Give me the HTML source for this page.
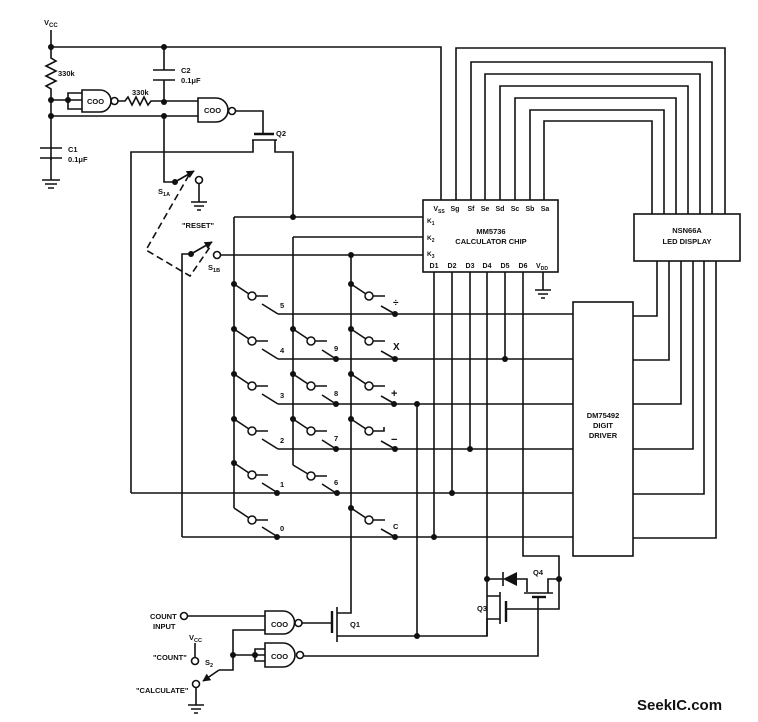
<!DOCTYPE html>
<html><head><meta charset="utf-8"><style>
html,body{margin:0;padding:0;background:#fff}
svg{display:block}
text{font-family:"Liberation Sans",sans-serif;font-weight:bold;fill:#111}
</style></head><body>
<svg width="758" height="722" viewBox="0 0 758 722" xmlns="http://www.w3.org/2000/svg">
<defs>
<marker id="ar" viewBox="0 0 10 10" refX="9" refY="5" markerWidth="5" markerHeight="5" orient="auto"><path d="M0,0 L10,5 L0,10 z" fill="#111"/></marker>
</defs>
<g stroke="#111" stroke-width="1.6" fill="none">
<path d="M51,30 V47 H441 V200"/>
<path d="M51,47 V58 l5,3 -10,5 10,5 -10,5 10,5 -10,5 5,3 V160"/>
<path d="M51,100 H82 M68,100 V93 H82 M68,100 V109 H82"/>
<path d="M51,116 H198"/>
<path d="M40,148 H62 M40,158 H62 M51,158 V180"/>
<path d="M42,180 H60 M45,184 H57 M48,188 H54"/>
<path d="M82,90 H100 A11,11 0 0 1 100,112 H82 Z"/>
<circle cx="114.5" cy="101" r="3.5"/>
<path d="M118,101 H125 l3,-4 4,8 4,-8 4,8 4,-8 4,8 3,-4 H198"/>
<path d="M164,47 V70 M153,70 H175 M153,80 H175 M164,80 V102"/>
<path d="M198,98 H216 A12,12 0 0 1 216,122 H198 Z"/>
<circle cx="232" cy="111" r="3.5"/>
<path d="M236,111 H263 V134"/>
<path d="M254,134 H274" stroke-width="2.5"/>
<path d="M252,140 H277 M253,140 V152 H131 V493 M275,140 V152 H293 V217"/>
<path d="M164,116 V182 H175"/>
<path d="M175,182 L194,171" marker-end="url(#ar)"/>
<circle cx="199" cy="180" r="3.5"/>
<path d="M199,184 V202 M191,202 H207 M194,206 H204 M197,210 H201"/>
<path d="M189,175 L146,250 L190,276 L210,247" stroke-dasharray="7,4"/>
<path d="M182,537 V254 H191"/>
<path d="M191,254 L212,242" marker-end="url(#ar)"/>
<circle cx="217" cy="255" r="3.5"/>
<path d="M221,255 H423"/>
<path d="M234,217 H423 M234,217 V508"/>
<path d="M293,237 H423 M293,237 V465"/>
<path d="M351,255 V613 H337"/>
<rect x="423" y="200" width="135" height="72"/>
<path d="M543,272 V290 M535,290 H551 M538,294 H548 M541,298 H545"/>
<path d="M456,200 V48 H725 V214"/>
<path d="M471,200 V62 H712 V214"/>
<path d="M485,200 V74 H700 V214"/>
<path d="M500,200 V86 H688 V214"/>
<path d="M515,200 V98 H676 V214"/>
<path d="M530,200 V110 H664 V214"/>
<path d="M544,200 V121 H652 V214"/>
<rect x="634" y="214" width="106" height="47"/>
<path d="M657,261 V316 H633 M669,261 V360 H633 M681,261 V404 H633 M693,261 V449 H633 M704,261 V494 H633 M716,261 V538 H633"/>
<rect x="573" y="302" width="60" height="254"/>
<path d="M278,314 H573 M278,359 H573 M278,404 H573 M278,449 H573 M131,493 H573 M182,537 H573"/>
<path d="M434,272 V537 M452,272 V493 M470,272 V449 M487,272 V636 H337 M505,272 V359 M523,272 V556 H559 V609 H506"/>
<path d="M417,404 V636"/>
<path d="M234,284 L249,294 M256,296 H268 M262,304 L278,314"/>
<path d="M234,329 L249,339 M256,341 H268 M262,349 L278,359"/>
<path d="M234,374 L249,384 M256,386 H268 M262,394 L278,404"/>
<path d="M234,419 L249,429 M256,431 H268 M262,439 L278,449"/>
<path d="M234,463 L249,473 M256,475 H268 M262,483 L278,493"/>
<path d="M234,508 L249,518 M256,520 H268 M262,527 L278,537"/>
<path d="M293,329 L308,339 M315,341 H327 M322,350 L336,359"/>
<path d="M293,374 L308,384 M315,386 H327 M322,395 L336,404"/>
<path d="M293,419 L308,429 M315,431 H327 M322,440 L336,449"/>
<path d="M293,465 L308,474 M315,476 H327 M322,484 L336,493"/>
<path d="M351,284 L366,294 M373,296 H385 M381,306 L395,314"/>
<path d="M351,329 L366,339 M373,341 H385 M381,351 L395,359"/>
<path d="M351,374 L366,384 M373,386 H385 M381,396 L395,404"/>
<path d="M351,419 L366,429 M373,431 H384 V427 M381,441 L395,449"/>
<path d="M351,508 L366,518 M373,520 H385 M381,529 L395,537"/>
<path d="M487,596 H500 M500,592 V624 M500,619 H487 V636" />
<path d="M506,601 V622" stroke-width="2.4"/>
<path d="M487,579 H503 M517,579 H527 V592 M524,593 H553 M548,593 V579 H559"/>
<path d="M503,572 V586"/>
<path d="M532,597 H546" stroke-width="2.4"/>
<path d="M538,597 V656 H304"/>
<circle cx="184" cy="616" r="3.5"/>
<path d="M188,616 H265"/>
<path d="M265,611 H283 A11.5,11.5 0 0 1 283,634 H265 Z"/>
<circle cx="298.5" cy="623" r="3.5"/>
<path d="M302,623 H332"/>
<path d="M332,611 V633" stroke-width="2.4"/>
<path d="M337,607 V642"/>
<path d="M265,643 H283 A12,12 0 0 1 283,667 H265 Z"/>
<circle cx="300" cy="655" r="3.5"/>
<path d="M233,655 H265 M255,655 V649 H265 M255,655 V661 H265"/>
<path d="M265,630 H233 V670 H219"/>
<path d="M219,670 L203,681" marker-end="url(#ar)"/>
<circle cx="196" cy="684" r="3.5"/>
<path d="M196,688 V705 M188,705 H204 M191,709 H201 M194,713 H198"/>
<circle cx="195" cy="661" r="3.5"/>
<path d="M195,643 V657"/>
</g>
<path d="M503,579 L517,572 L517,586 Z" fill="#111"/>
<g fill="#111">
<circle cx="51" cy="47" r="3"/><circle cx="164" cy="47" r="3"/><circle cx="51" cy="100" r="3"/><circle cx="68" cy="100" r="3"/>
<circle cx="51" cy="116" r="3"/><circle cx="164" cy="102" r="3"/><circle cx="164" cy="116" r="3"/>
<circle cx="175" cy="182" r="3"/><circle cx="191" cy="254" r="3"/>
<circle cx="293" cy="217" r="3"/><circle cx="351" cy="255" r="3"/>
<circle cx="234" cy="284" r="3"/><circle cx="234" cy="329" r="3"/><circle cx="234" cy="374" r="3"/><circle cx="234" cy="419" r="3"/><circle cx="234" cy="463" r="3"/>
<circle cx="293" cy="329" r="3"/><circle cx="293" cy="374" r="3"/><circle cx="293" cy="419" r="3"/>
<circle cx="351" cy="284" r="3"/><circle cx="351" cy="329" r="3"/><circle cx="351" cy="374" r="3"/><circle cx="351" cy="419" r="3"/><circle cx="351" cy="508" r="3"/>
<circle cx="336" cy="359" r="3"/><circle cx="336" cy="404" r="3"/><circle cx="336" cy="449" r="3"/><circle cx="337" cy="493" r="3"/>
<circle cx="395" cy="314" r="3"/><circle cx="395" cy="359" r="3"/><circle cx="394" cy="404" r="3"/><circle cx="395" cy="449" r="3"/><circle cx="395" cy="537" r="3"/>
<circle cx="277" cy="493" r="3"/><circle cx="277" cy="537" r="3"/>
<circle cx="417" cy="404" r="3"/><circle cx="505" cy="359" r="3"/><circle cx="470" cy="449" r="3"/><circle cx="452" cy="493" r="3"/><circle cx="434" cy="537" r="3"/>
<circle cx="487" cy="579" r="3"/><circle cx="559" cy="579" r="3"/><circle cx="417" cy="636" r="3"/>
<circle cx="233" cy="655" r="3"/><circle cx="255" cy="655" r="3"/>
</g>
<g fill="#fff" stroke="#111" stroke-width="1.5">
<circle cx="252" cy="296" r="4"/><circle cx="252" cy="341" r="4"/><circle cx="252" cy="386" r="4"/><circle cx="252" cy="431" r="4"/><circle cx="252" cy="475" r="4"/><circle cx="252" cy="520" r="4"/>
<circle cx="311" cy="341" r="4"/><circle cx="311" cy="386" r="4"/><circle cx="311" cy="431" r="4"/><circle cx="311" cy="476" r="4"/>
<circle cx="369" cy="296" r="4"/><circle cx="369" cy="341" r="4"/><circle cx="369" cy="386" r="4"/><circle cx="369" cy="431" r="4"/><circle cx="369" cy="520" r="4"/>
</g>
<g font-size="7.5">
<text x="44" y="25">V<tspan font-size="6" dy="2">CC</tspan></text>
<text x="58" y="76">330k</text>
<text x="132" y="95">330k</text>
<text x="181" y="73">C2</text><text x="181" y="83">0.1μF</text>
<text x="68" y="152">C1</text><text x="68" y="162">0.1μF</text>
<text x="87" y="104">COO</text><text x="204" y="113">COO</text>
<text x="276" y="136">Q2</text>
<text x="158" y="194">S<tspan font-size="5.5" dy="2">1A</tspan></text>
<text x="182" y="228">"RESET"</text>
<text x="208" y="270">S<tspan font-size="5.5" dy="2">1B</tspan></text>
<g font-size="7" text-anchor="middle">
<text x="439" y="211">V<tspan font-size="5" dy="2">SS</tspan></text>
<text x="455" y="211">Sg</text><text x="471" y="211">Sf</text><text x="485" y="211">Se</text><text x="500" y="211">Sd</text><text x="515" y="211">Sc</text><text x="530" y="211">Sb</text><text x="545" y="211">Sa</text>
<text x="434" y="268">D1</text><text x="452" y="268">D2</text><text x="470" y="268">D3</text><text x="487" y="268">D4</text><text x="505" y="268">D5</text><text x="523" y="268">D6</text>
<text x="542" y="268">V<tspan font-size="5" dy="2">DD</tspan></text>
</g>
<text x="427" y="223" font-size="6.5">K<tspan font-size="5" dy="2">1</tspan></text>
<text x="427" y="240" font-size="6.5">K<tspan font-size="5" dy="2">2</tspan></text>
<text x="427" y="256" font-size="6.5">K<tspan font-size="5" dy="2">3</tspan></text>
<text x="491" y="234" text-anchor="middle">MM5736</text>
<text x="491" y="244" text-anchor="middle">CALCULATOR CHIP</text>
<text x="687" y="233" text-anchor="middle">NSN66A</text>
<text x="687" y="244" text-anchor="middle">LED DISPLAY</text>
<text x="603" y="418" text-anchor="middle">DM75492</text>
<text x="603" y="428" text-anchor="middle">DIGIT</text>
<text x="603" y="438" text-anchor="middle">DRIVER</text>
<text x="280" y="308">5</text><text x="280" y="353">4</text><text x="280" y="398">3</text><text x="280" y="443">2</text><text x="280" y="487">1</text><text x="280" y="531">0</text>
<text x="334" y="351">9</text><text x="334" y="396">8</text><text x="334" y="441">7</text><text x="334" y="485">6</text>
<text x="393" y="306" font-size="10">÷</text><text x="393" y="350" font-size="10">X</text><text x="391" y="397" font-size="11">+</text><text x="391" y="443" font-size="11">−</text><text x="393" y="529">C</text>
<text x="150" y="619">COUNT</text><text x="153" y="629">INPUT</text>
<text x="271" y="627">COO</text><text x="271" y="659">COO</text>
<text x="350" y="627">Q1</text><text x="477" y="611">Q3</text><text x="533" y="575">Q4</text>
<text x="189" y="640">V<tspan font-size="5.5" dy="2">CC</tspan></text>
<text x="153" y="660">"COUNT"</text>
<text x="205" y="665">S<tspan font-size="5.5" dy="2">2</tspan></text>
<text x="136" y="693">"CALCULATE"</text>
</g>
<text x="637" y="710" font-size="15" style="font-weight:bold">SeekIC.com</text>
</svg>
</body></html>
